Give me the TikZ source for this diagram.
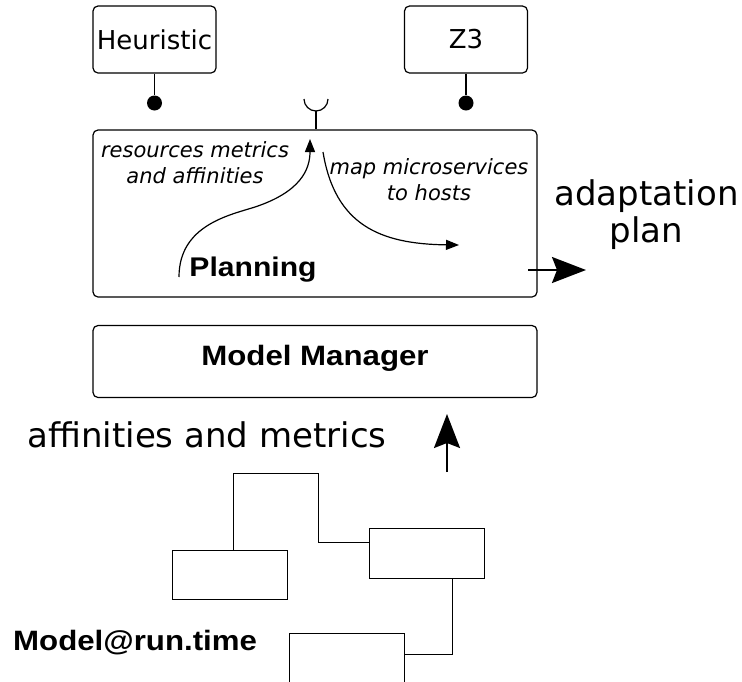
\documentclass[tikz,border=0pt]{standalone}
\usepackage{fontspec}
\usepackage{graphicx}
\setmainfont{DejaVu Sans}
\newfontfamily\boldsans{Liberation Sans}
\usetikzlibrary{arrows.meta,calc}

\newcommand{\heavylabel}[2]{{\boldsans\bfseries\fontsize{#1}{#1}\selectfont\scalebox{1.115}[1]{#2}}}

\begin{document}
\begin{tikzpicture}[x=1pt,y=-1pt,
  roundbox/.style={draw, line width=1.2pt, rounded corners=5pt, inner sep=0pt},
  solverbox/.style={roundbox, minimum width=123pt, minimum height=67pt,
    font=\fontsize{26}{31}\selectfont},
  modelbox/.style={draw, line width=1pt, inner sep=0pt, minimum width=115pt, minimum height=49pt},
  wire/.style={line width=1.2pt},
  thinwire/.style={line width=1pt},
  dot/.style={circle, fill, inner sep=0pt, minimum size=15pt},
  note/.style={font=\itshape\fontsize{21}{26}\selectfont, inner sep=0pt, align=center},
  biglabel/.style={font=\fontsize{34}{37}\selectfont, inner sep=0pt, align=center},
  smallarrow/.style={line width=1.2pt, -{Triangle[length=13pt,width=10pt]}},
  bigarrow/.style={line width=2pt, -{Stealth[length=34pt,width=26pt,inset=5pt]}},
]
\useasboundingbox (0,0) rectangle (742,681);
\clip (0,0) rectangle (742,681);

% solver components plugged into the planner
\node[solverbox] (heur) at (154.5,39.5) {Heuristic};
\node[solverbox] (z3) at (466,39.5) {Z3};
\node[dot] (hdot) at (154.5,103) {};
\node[dot] (zdot) at (466,103) {};
\draw[wire] (heur.south) -- (hdot);
\draw[wire] (z3.south) -- (zdot);

% planning component
\node[roundbox, minimum width=444pt, minimum height=167pt] (plan) at (315,213.5) {};
\node[inner sep=0pt, anchor=base] (planlbl) at (253,276.7) {\heavylabel{27}{Planning}};

% required interface socket
\coordinate (sock) at (316,111);
\draw[wire] (sock) -- (sock |- plan.north);
\draw[wire] ($(sock)+(-12,-12)$) .. controls ($(sock)+(-12,-5.4)$) and ($(sock)+(-6.6,0)$) .. (sock)
  .. controls ($(sock)+(6.6,0)$) and ($(sock)+(12,-5.4)$) .. ($(sock)+(12,-12)$);

% internal flows (base anchor sits on the last line)
\node[note, anchor=base] (res) at (195,183) {resources metrics\\and affinities};
\node[note, anchor=base] (map) at (429,200) {map microservices\\to hosts};
\coordinate (f1s) at (179,277);
\coordinate (f1m) at (255,207);
\coordinate (f1e) at (310,139);
\draw[smallarrow] (f1s) .. controls (179,225) and (230,215) .. (f1m)
  .. controls (300,192) and (310,170) .. (f1e);
\coordinate (f2s) at (323,152);
\coordinate (f2e) at (459,245);
\draw[smallarrow] (f2s) .. controls (335,225) and (380,244) .. (f2e);

% plan output
\coordinate (out0) at (528,270);
\coordinate (out1) at (586,270);
\draw[bigarrow] (out0) -- (out1);
\node[biglabel, anchor=base] (adapt) at (646.5,242) {adaptation\\plan};

% model manager
\node[roundbox, minimum width=444pt, minimum height=72pt] (mm) at (315,361.5) {};
\node[inner sep=0pt, anchor=base] (mmlbl) at (315,365) {\heavylabel{28}{Model Manager}};

% runtime model feeding the manager
\node[biglabel, anchor=base] (aff) at (207,447) {affinities and metrics};
\coordinate (up0) at (447,472);
\coordinate (up1) at (447,414);
\draw[bigarrow] (up0) -- (up1);

\node[modelbox] (ma) at (229.5,574.5) {};
\node[modelbox, minimum height=50pt] (mb) at (426.5,553) {};
\node[modelbox, minimum height=70pt] (mc) at (346.5,668) {};
\coordinate (j1) at (233,473);
\coordinate (j2) at (318,473);
\coordinate (j3) at (318,542);
\coordinate (j4) at (452,654);
\draw[thinwire] (ma.north -| j1) -- (j1) -- (j2) -- (j3) -- (j3 -| mb.west);
\draw[thinwire] (mb.south -| j4) -- (j4) -- (j4 -| mc.east);

\node[inner sep=0pt, anchor=base west] (mrt) at (13,650) {\heavylabel{28}{Model@run.time}};
\end{tikzpicture}
\end{document}
